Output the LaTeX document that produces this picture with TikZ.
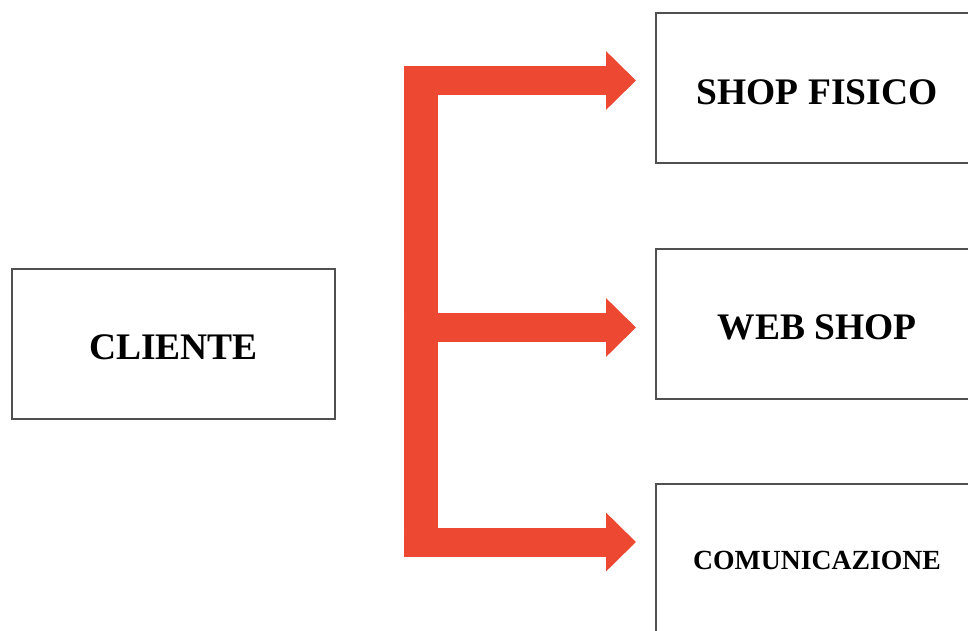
\documentclass[tikz,border=0pt]{standalone}
\usepackage{fontspec}
\setmainfont{Liberation Serif}
\usetikzlibrary{arrows.meta,positioning,calc}
\definecolor{flowred}{RGB}{236,72,50}
\definecolor{boxline}{RGB}{80,80,80}

\begin{document}
\begin{tikzpicture}[x=1pt, y=-1pt,
  box/.style={draw=boxline, line width=2pt, fill=white, inner sep=0pt,
              minimum width=322pt, minimum height=150pt,
              text height=32pt, text depth=0pt,
              font=\bfseries\fontsize{37.5}{40}\selectfont},
  spine/.style={draw=flowred, line width=34pt},
  arr/.style={draw=flowred, line width=29pt, shorten >=19pt,
              -{Triangle[length=30pt, width=57pt]}}]
  \useasboundingbox (0,0) rectangle (968,630);
  \clip (0,0) rectangle (968,630);
  % boxes
  \node[box, minimum width=323pt] (cliente) at (173.5,343.5) {CLIENTE};
  \node[box] (fisico) at (817,88) {SHOP FISICO};
  \node[box] (web) at (817,323.5) {WEB SHOP};
  \node[box, text height=20pt, font=\bfseries\fontsize{27.7}{30}\selectfont] (comm) at (817,559) {COMUNICAZIONE};
  % red fork
  \coordinate (top) at (420.5,66);
  \coordinate (bottom) at (420.5,557);
  \coordinate (s1) at (403.5,80.5);
  \coordinate (s2) at (403.5,327.5);
  \coordinate (s3) at (403.5,542);
  \draw[spine] (top) -- (bottom);
  \draw[arr] (s1) -- (s1 -| fisico.west);
  \draw[arr] (s2) -- (s2 -| web.west);
  \draw[arr] (s3) -- (s3 -| comm.west);
\end{tikzpicture}
\end{document}
